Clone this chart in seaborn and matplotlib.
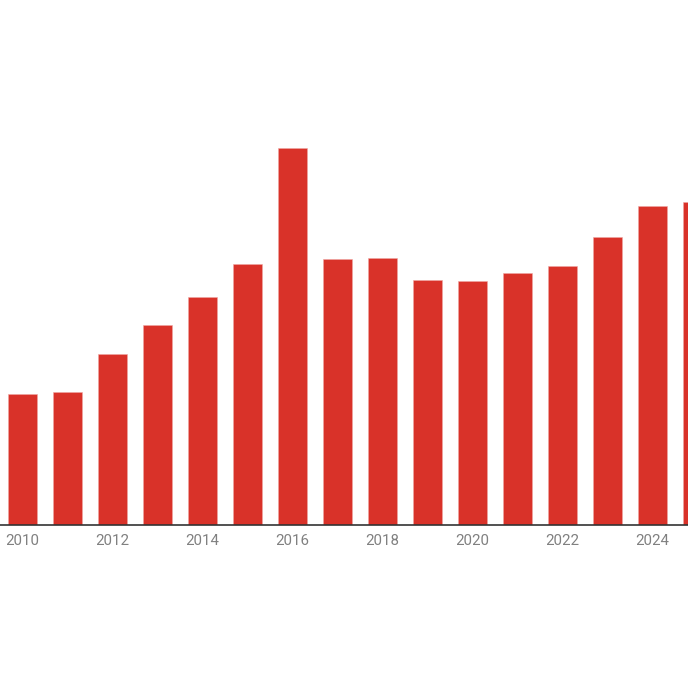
import matplotlib
matplotlib.use("Agg")
import matplotlib.pyplot as plt
import seaborn as sns
import pandas as pd

years = [2010, 2011, 2012, 2013, 2014, 2015, 2016, 2017, 2018, 2019, 2020, 2021, 2022, 2023, 2024, 2025]
values = [130.2, 132.8, 170.2, 199.2, 227.5, 260.8, 376.2, 265.8, 266.8, 244.5, 243.8, 251.5, 258.5, 287.8, 318.5, 322.5]
tick_years = [2010, 2012, 2014, 2016, 2018, 2020, 2022, 2024]

df = pd.DataFrame({"year": [str(y) for y in years], "value": values})

sns.set_theme(style="white")
plt.rcParams['font.family'] = ['Roboto', 'DejaVu Sans']

W = H = 688
fig = plt.figure(figsize=(6.88, 6.88), dpi=100)
base = 524.5
top = 100.0
ax = fig.add_axes([0, (H - base) / H, 1, (base - top) / H])

sns.barplot(data=df, x="year", y="value", color="#d93229", saturation=1,
            width=29 / 45, edgecolor="#f0a8a4", linewidth=0.4, ax=ax)

ax.set_xlim(-0.5, (W - 22.5) / 45)
ax.set_ylim(0, base - top)
ax.set_xlabel("")
ax.set_ylabel("")
ax.set_yticks([])
pos = [years.index(y) for y in tick_years]
ax.set_xticks(pos)
ax.set_xticklabels([str(y) for y in tick_years], fontsize=10.8, color="#808080")
ax.tick_params(axis="x", length=0, pad=7)
for s in ["top", "right", "left"]:
    ax.spines[s].set_visible(False)
ax.spines["bottom"].set_color("#333333")
ax.spines["bottom"].set_linewidth(1.2)
ax.patch.set_alpha(0)

fig.savefig("out.png", dpi=100)
